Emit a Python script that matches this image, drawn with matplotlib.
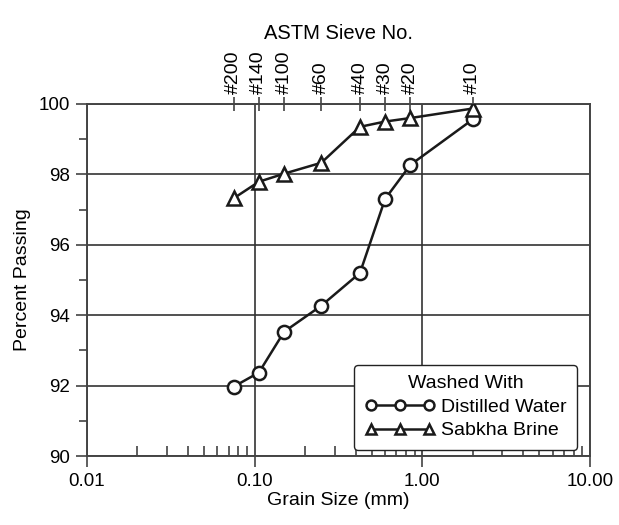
import matplotlib
matplotlib.use("Agg")
import matplotlib.pyplot as plt
from matplotlib.ticker import FixedLocator, NullFormatter, LogLocator

plt.rcParams['font.family'] = ['Liberation Sans', 'DejaVu Sans']

sieve_labels = ["#200", "#140", "#100", "#60", "#40", "#30", "#20", "#10"]
grain_size = [0.075, 0.106, 0.15, 0.25, 0.425, 0.6, 0.85, 2.0]
distilled_water = [91.97, 92.37, 93.53, 94.27, 95.2, 97.3, 98.27, 99.56]
sabkha_brine = [97.32, 97.79, 98.02, 98.33, 99.35, 99.5, 99.6, 99.87]

fig = plt.figure(figsize=(6.19, 5.25), dpi=100)
ax = fig.add_axes([0.1405, 0.1314, 0.8125, 0.6706])

ax.plot(grain_size, distilled_water, '-', color='#1a1a1a', lw=1.8, marker='o',
        ms=9.5, mfc='white', mec='#1a1a1a', mew=1.8, label='Distilled Water', zorder=5)
ax.plot(grain_size, sabkha_brine, '-', color='#1a1a1a', lw=1.8, marker='^',
        ms=10.5, mfc='white', mec='#1a1a1a', mew=1.8, label='Sabkha Brine', zorder=5)

ax.set_xscale('log')
ax.set_xlim(0.01, 10)
ax.set_ylim(90, 100)
ax.set_xticks([0.01, 0.1, 1, 10])
ax.set_xticklabels(["0.01", "0.10", "1.00", "10.00"])
ax.xaxis.set_minor_locator(LogLocator(base=10, subs=range(2, 10)))
ax.xaxis.set_minor_formatter(NullFormatter())
ax.set_yticks([90, 92, 94, 96, 98, 100])
ax.yaxis.set_minor_locator(FixedLocator([91, 93, 95, 97, 99]))

ax.grid(True, which='major', color='#333333', lw=1.2)
ax.set_axisbelow(True)

ax.tick_params(axis='both', which='major', labelsize=13.5, direction='out', length=8,
               width=1.1, color='#333333', pad=4)
ax.tick_params(axis='x', which='minor', direction='in', length=7, width=1.1, color='#333333')
ax.tick_params(axis='y', which='minor', direction='out', length=6, width=1.1, color='#333333')
for s in ax.spines.values():
    s.set_color('#444444')
    s.set_linewidth(1.4)

ax.set_xlabel('Grain Size (mm)', fontsize=14, labelpad=2)
ax.set_ylabel('Percent Passing', fontsize=14, labelpad=6)

top = ax.secondary_xaxis('top')
top.set_xticks(grain_size)
top.set_xticklabels(sieve_labels, rotation=90, fontsize=14)
top.xaxis.set_minor_locator(FixedLocator([]))
top.tick_params(axis='x', direction='inout', length=10, width=1.1, color='#333333', pad=2)
top.spines['top'].set_visible(False)
top.set_xlabel('ASTM Sieve No.', fontsize=14.5, labelpad=8)

leg = ax.legend(title='Washed With', loc='lower right', bbox_to_anchor=(0.975, 0.017),
                numpoints=3, fontsize=14, title_fontsize=14, markerscale=0.75,
                frameon=True, fancybox=True, edgecolor='#222222', framealpha=1,
                handlelength=3.6, handletextpad=0.3, borderpad=0.55, labelspacing=0.3,
                borderaxespad=0)
leg.get_frame().set_linewidth(1.0)

fig.savefig('out.png', dpi=100)
